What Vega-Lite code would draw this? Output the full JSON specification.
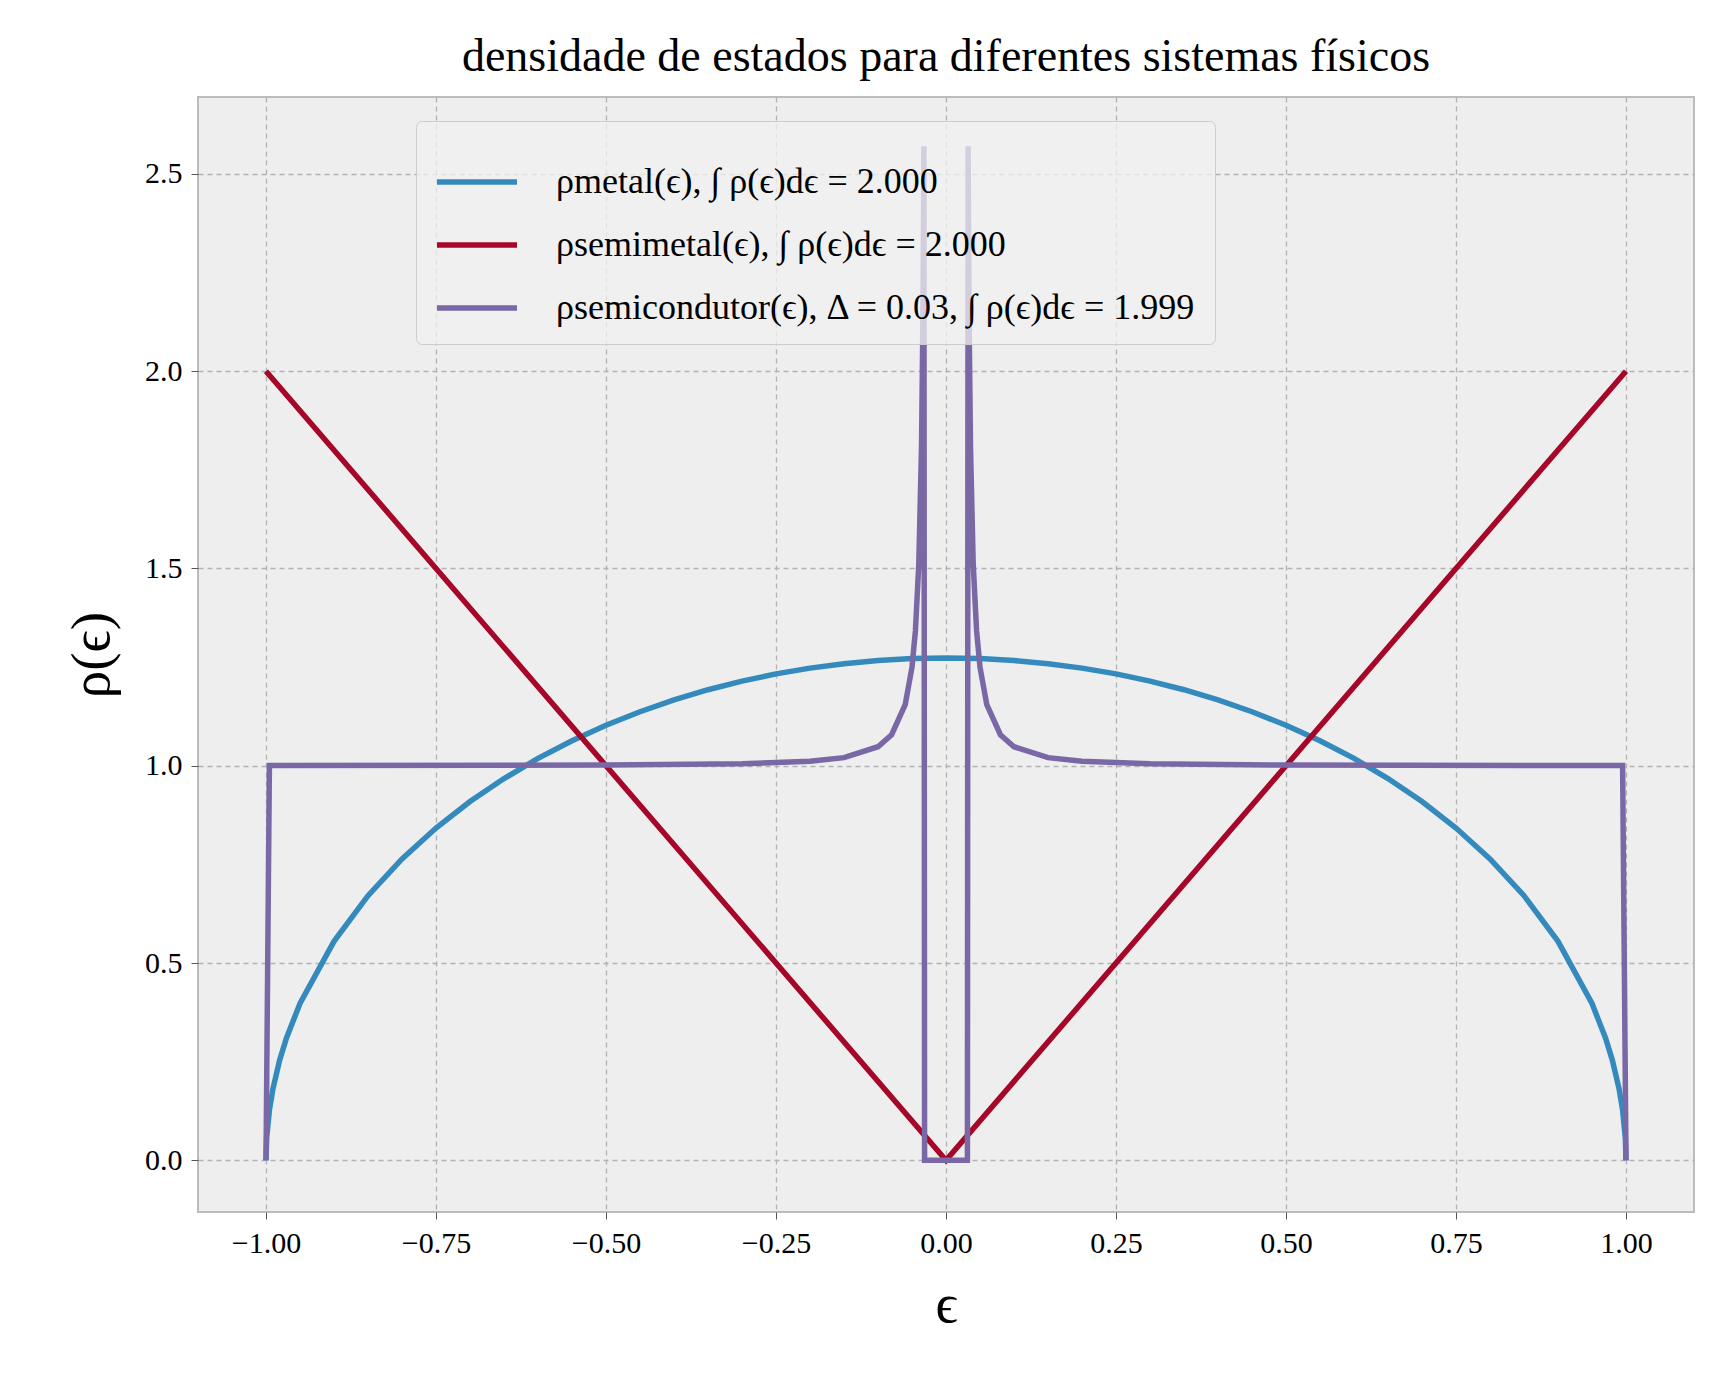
{
"$schema":"https://vega.github.io/schema/vega-lite/v6.json",
"width":1496,"height":1115,"autosize":{"type":"none"},
"padding":{"left":198,"top":97,"right":21,"bottom":165},
"title":{"text":"densidade de estados para diferentes sistemas físicos","font":"Liberation Serif","fontSize":46,"fontWeight":"normal","color":"#000","offset":16},
"config":{"view":{"fill":"#EEEEEE","stroke":"#BCBCBC","strokeWidth":2},"font":"Liberation Serif"},
"data":{"values":[
{"s":"m","x":-1,"y":0},{"s":"m","x":-0.999,"y":0.0569},{"s":"m","x":-0.995,"y":0.1272},{"s":"m","x":-0.99,"y":0.1796},{"s":"m","x":-0.98,"y":0.2534},{"s":"m","x":-0.97,"y":0.3095},{"s":"m","x":-0.95,"y":0.3975},{"s":"m","x":-0.9,"y":0.555},{"s":"m","x":-0.85,"y":0.6707},{"s":"m","x":-0.8,"y":0.7639},{"s":"m","x":-0.75,"y":0.8421},{"s":"m","x":-0.7,"y":0.9093},{"s":"m","x":-0.65,"y":0.9675},{"s":"m","x":-0.6,"y":1.0186},{"s":"m","x":-0.55,"y":1.0634},{"s":"m","x":-0.5,"y":1.1027},{"s":"m","x":-0.45,"y":1.137},{"s":"m","x":-0.4,"y":1.1669},{"s":"m","x":-0.35,"y":1.1927},{"s":"m","x":-0.3,"y":1.2146},{"s":"m","x":-0.25,"y":1.2328},{"s":"m","x":-0.2,"y":1.2475},{"s":"m","x":-0.15,"y":1.2588},{"s":"m","x":-0.1,"y":1.2668},{"s":"m","x":-0.05,"y":1.2716},{"s":"m","x":0,"y":1.2732},
{"s":"m","x":0.05,"y":1.2716},{"s":"m","x":0.1,"y":1.2668},{"s":"m","x":0.15,"y":1.2588},{"s":"m","x":0.2,"y":1.2475},{"s":"m","x":0.25,"y":1.2328},{"s":"m","x":0.3,"y":1.2146},{"s":"m","x":0.35,"y":1.1927},{"s":"m","x":0.4,"y":1.1669},{"s":"m","x":0.45,"y":1.137},{"s":"m","x":0.5,"y":1.1027},{"s":"m","x":0.55,"y":1.0634},{"s":"m","x":0.6,"y":1.0186},{"s":"m","x":0.65,"y":0.9675},{"s":"m","x":0.7,"y":0.9093},{"s":"m","x":0.75,"y":0.8421},{"s":"m","x":0.8,"y":0.7639},{"s":"m","x":0.85,"y":0.6707},{"s":"m","x":0.9,"y":0.555},{"s":"m","x":0.95,"y":0.3975},{"s":"m","x":0.97,"y":0.3095},{"s":"m","x":0.98,"y":0.2534},{"s":"m","x":0.99,"y":0.1796},{"s":"m","x":0.995,"y":0.1272},{"s":"m","x":0.999,"y":0.0569},{"s":"m","x":1,"y":0},
{"s":"sm","x":-1,"y":2},{"s":"sm","x":0,"y":0},{"s":"sm","x":1,"y":2},
{"s":"sc","x":-1,"y":0},{"s":"sc","x":-0.995,"y":1.0005},{"s":"sc","x":-0.5,"y":1.0018},{"s":"sc","x":-0.3,"y":1.005},{"s":"sc","x":-0.2,"y":1.0114},{"s":"sc","x":-0.15,"y":1.0206},{"s":"sc","x":-0.1,"y":1.0483},{"s":"sc","x":-0.08,"y":1.0787},{"s":"sc","x":-0.06,"y":1.1547},{"s":"sc","x":-0.05,"y":1.25},{"s":"sc","x":-0.045,"y":1.3416},{"s":"sc","x":-0.04,"y":1.5119},{"s":"sc","x":-0.036,"y":1.8091},{"s":"sc","x":-0.034,"y":2.125},{"s":"sc","x":-0.033,"y":2.4},{"s":"sc","x":-0.0325,"y":2.57},{"s":"sc","x":-0.0315,"y":0},
{"s":"sc","x":0.0315,"y":0},{"s":"sc","x":0.0325,"y":2.57},{"s":"sc","x":0.033,"y":2.4},{"s":"sc","x":0.034,"y":2.125},{"s":"sc","x":0.036,"y":1.8091},{"s":"sc","x":0.04,"y":1.5119},{"s":"sc","x":0.045,"y":1.3416},{"s":"sc","x":0.05,"y":1.25},{"s":"sc","x":0.06,"y":1.1547},{"s":"sc","x":0.08,"y":1.0787},{"s":"sc","x":0.1,"y":1.0483},{"s":"sc","x":0.15,"y":1.0206},{"s":"sc","x":0.2,"y":1.0114},{"s":"sc","x":0.3,"y":1.005},{"s":"sc","x":0.5,"y":1.0018},{"s":"sc","x":0.995,"y":1.0005},{"s":"sc","x":1,"y":0}
]},
"mark":{"type":"line","strokeWidth":5.5,"clip":true},
"encoding":{
"x":{"field":"x","type":"quantitative","scale":{"domain":[-1.1,1.1],"nice":false,"zero":false},
"axis":{"values":[-1,-0.75,-0.5,-0.25,0,0.25,0.5,0.75,1],"format":".2f","title":"ϵ","titleFontSize":55,"titleFontWeight":"normal","titleFont":"Liberation Serif","titlePadding":20,"labelFontSize":30,"labelColor":"#000","labelPadding":9,"domain":false,"tickColor":"#555","tickSize":7,"gridColor":"#b2b2b2","gridDash":[5,4],"gridWidth":1.3}},
"y":{"field":"y","type":"quantitative","scale":{"domain":[-0.131,2.695],"nice":false,"zero":false},
"axis":{"values":[0,0.5,1,1.5,2,2.5],"format":".1f","title":"ρ(ϵ)","titleFontSize":55,"titleFontWeight":"normal","titlePadding":24,"labelFontSize":30,"labelColor":"#000","labelPadding":9,"domain":false,"tickColor":"#555","tickSize":7,"gridColor":"#b2b2b2","gridDash":[5,4],"gridWidth":1.3}},
"color":{"field":"s","type":"nominal","scale":{"domain":["m","sm","sc"],"range":["#348ABD","#A60628","#7A68A6"]},
"legend":{"title":null,"orient":"none","legendX":218,"legendY":24,"symbolType":"stroke","symbolSize":6400,"symbolStrokeWidth":5.5,"labelFontSize":36,"labelFont":"Liberation Serif","labelColor":"#000","labelExpr":"datum.value=='m'?'ρmetal(ϵ), ∫ ρ(ϵ)dϵ = 2.000':datum.value=='sm'?'ρsemimetal(ϵ), ∫ ρ(ϵ)dϵ = 2.000':'ρsemicondutor(ϵ), Δ = 0.03, ∫ ρ(ϵ)dϵ = 1.999'","labelLimit":1000,"rowPadding":2,"padding":18,"labelOffset":36,"fillColor":"rgba(240,240,240,0.75)","strokeColor":"#CCCCCC","cornerRadius":6}}
}
}
